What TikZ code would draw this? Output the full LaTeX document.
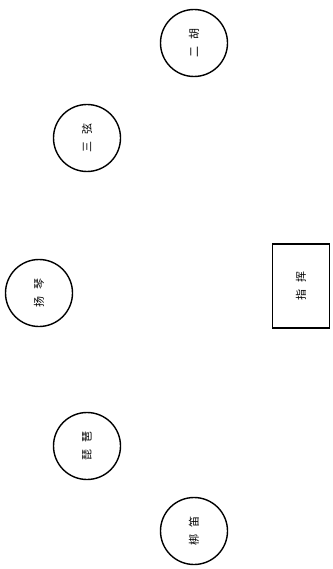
\documentclass[tikz,border=0pt]{standalone}
\usepackage{fontspec}
\newfontfamily\cjk{Noto Sans CJK SC}[BoldFont=Noto Sans CJK SC Bold]
\begin{document}
\begin{tikzpicture}[x=1pt,y=-1pt,
  inst/.style={draw, circle, line width=1.4pt, minimum size=67pt, inner sep=0pt, font=\cjk\fontsize{11}{11}\selectfont},
  cond/.style={draw, rectangle, line width=1.4pt, minimum width=57pt, minimum height=84pt, inner sep=0pt, font=\cjk\fontsize{11}{11}\selectfont}]
\useasboundingbox (0,0) rectangle (332,569);
\node[inst] (erhu) at (194,43) {\rotatebox{90}{二\hspace{7pt}胡}};
\node[inst] (sanxian) at (87,138) {\rotatebox{90}{三\hspace{7pt}弦}};
\node[inst] (yangqin) at (39,293) {\rotatebox{90}{扬\hspace{7pt}琴}};
\node[inst] (pipa) at (87,446) {\rotatebox{90}{琵\hspace{7pt}琶}};
\node[inst] (bangdi) at (194,531) {\rotatebox{90}{梆\hspace{7pt}笛}};
\node[cond] (zhihui) at (301,286) {\rotatebox{90}{指\hspace{7pt}挥}};
\end{tikzpicture}
\end{document}
